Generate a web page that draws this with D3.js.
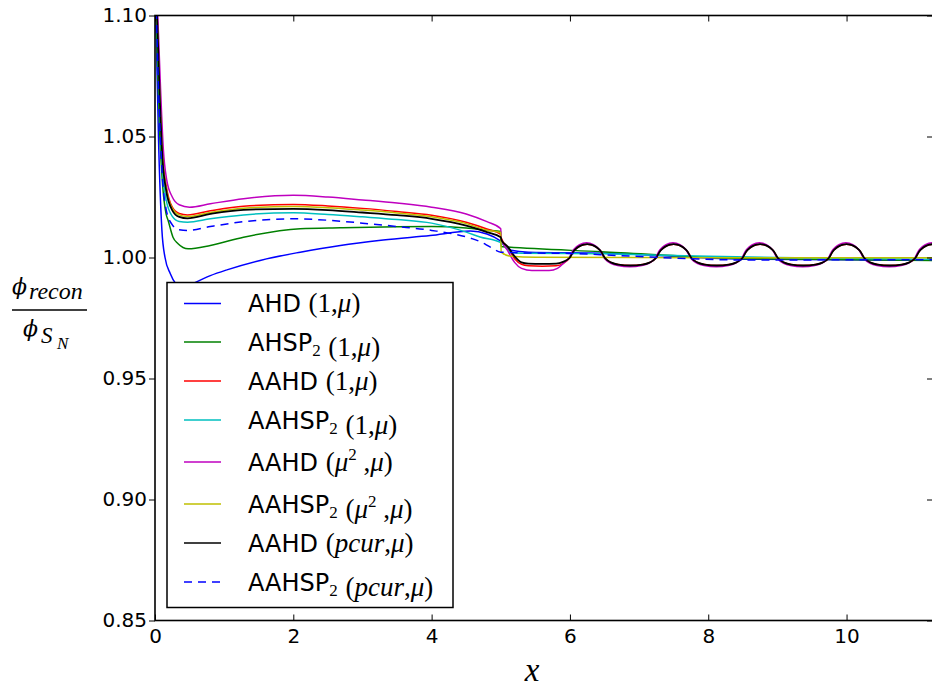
<!DOCTYPE html>
<html>
<head>
<meta charset="utf-8">
<script src="https://cdn.jsdelivr.net/npm/d3@7"></script>
<style>
  html, body { margin: 0; padding: 0; background: #fff; }
  svg { display: block; }
</style>
</head>
<body>
<svg id="chart" width="932" height="689"></svg>
<script>
// ---------------- data ----------------
const xTicks = [0, 2, 4, 6, 8, 10];
const yTicks = [0.85, 0.90, 0.95, 1.00, 1.05, 1.10];
const xDomain = [0, 11.25];
const yDomain = [0.85, 1.10];

const seriesNames = ["AHD", "AHSP", "AAHD", "AAHSP", "AAHD", "AAHSP", "AAHD", "AAHSP"];
const seriesSub = [null, "2", null, "2", null, "2", null, "2"];
const seriesArgs = ["1", "1", "1", "1", "mu2", "mu2", "pcur", "pcur"];
const seriesColors = ["#0000ff", "#008000", "#ff0000", "#00bfbf", "#bf00bf", "#bfbf00", "#000000", "#0000ff"];
const seriesDash = [null, null, null, null, null, null, null, "8,6"];

// AHD (1,mu) - blue
const ahd1 = [[0,1.115],[0.02,1.09],[0.05,1.05],[0.1,1.0112],[0.145,1.0],[0.22,0.9934],[0.3,0.9892],[0.4,0.9875],[0.55,0.9893],
  [0.8,0.9925],[1.04,0.9949],[1.52,0.9988],[2.1,1.0022],[2.68,1.005],[3.3,1.0072],[3.98,1.0091],[4.56,1.0109],[4.8,1.0097],
  [5.0,1.0068],[5.15,1.003],[5.4,1.0022],[6.5,1.0018],[8.5,0.9993],[11.25,0.9989]];
// AHSP2 (1,mu) - green
const ahsp1 = [[0,1.12],[0.03,1.085],[0.07,1.05],[0.11,1.03],[0.16,1.018],[0.19,1.0153],[0.26,1.0084],[0.33,1.0058],[0.48,1.0036],
  [0.8,1.005],[1.28,1.0084],[2.1,1.0119],[2.68,1.0123],[3.5,1.0127],[4.0,1.0128],[4.5,1.0122],[4.8,1.0113],[5.0,1.0107],
  [5.005,1.0045],[5.1,1.0043],[6.45,1.0024],[8.6,0.9995],[11.25,0.9988]];
// AAHD (1,mu) - red
const aahd1 = [[0,1.135],[0.03,1.10],[0.07,1.067],[0.11,1.042],[0.16,1.03],[0.25,1.0208],[0.35,1.0182],[0.47,1.0176],[0.8,1.0193],
  [1.28,1.0212],[2.0,1.0219],[2.5,1.0213],[3.0,1.0203],[3.5,1.019],[4.0,1.0175],[4.5,1.0146],[4.8,1.0118],[5.0,1.0095],
  [5.01,1.0078],[5.1,1.0042],[5.2,0.9995],[5.3,0.9972],[5.4,0.9966],[5.6,0.9964],[5.8,0.9966],[5.9,0.9975],[6.0,1.0],
  [6.05,1.0025],[6.1,1.0039],[6.15,1.0048],[6.2,1.0053],[6.25,1.0055],[6.3,1.0053],[6.35,1.0048],[6.4,1.0039],[6.45,1.0025],[6.5,1.0],
  [6.55,0.9987],[6.6,0.9979],[6.7,0.9971],[6.875,0.9967],[7.05,0.9971],[7.15,0.9979],[7.2,0.9987],[7.25,1.0],
  [7.3,1.0025],[7.35,1.0039],[7.4,1.0048],[7.45,1.0053],[7.5,1.0055],[7.55,1.0053],[7.6,1.0048],[7.65,1.0039],[7.7,1.0025],[7.75,1.0],
  [7.8,0.9987],[7.85,0.9979],[7.95,0.9971],[8.125,0.9967],[8.3,0.9971],[8.4,0.9979],[8.45,0.9987],[8.5,1.0],
  [8.55,1.0025],[8.6,1.0039],[8.65,1.0048],[8.7,1.0053],[8.75,1.0055],[8.8,1.0053],[8.85,1.0048],[8.9,1.0039],[8.95,1.0025],[9.0,1.0],
  [9.05,0.9987],[9.1,0.9979],[9.2,0.9971],[9.375,0.9967],[9.55,0.9971],[9.65,0.9979],[9.7,0.9987],[9.75,1.0],
  [9.8,1.0025],[9.85,1.0039],[9.9,1.0048],[9.95,1.0053],[10.0,1.0055],[10.05,1.0053],[10.1,1.0048],[10.15,1.0039],[10.2,1.0025],[10.25,1.0],
  [10.3,0.9987],[10.35,0.9979],[10.45,0.9971],[10.625,0.9967],[10.8,0.9971],[10.9,0.9979],[10.95,0.9987],[11.0,1.0],
  [11.05,1.0025],[11.1,1.0039],[11.15,1.0048],[11.2,1.0053],[11.25,1.0055],[11.3,1.0053]];
// AAHSP2 (1,mu) - cyan
const aahsp1 = [[0,1.125],[0.03,1.095],[0.07,1.06],[0.11,1.036],[0.16,1.024],[0.25,1.017],[0.35,1.0149],[0.47,1.0146],[0.8,1.016],
  [1.28,1.0176],[2.0,1.0185],[2.5,1.0178],[3.0,1.0168],[3.5,1.0157],[4.0,1.0142],[4.5,1.0105],[4.7,1.0085],[5.0,1.0062],
  [5.15,1.0022],[5.3,1.0018],[6.5,1.0015],[8.0,1.0005],[9.5,0.9998],[11.25,0.9993]];
// AAHD (mu^2,mu) - magenta
const aahdMu2 = [[0,1.135],[0.04,1.10],[0.08,1.07],[0.12,1.045],[0.17,1.032],[0.25,1.025],[0.35,1.0218],[0.5,1.0208],[0.8,1.0222],
  [1.28,1.0243],[2.0,1.0257],[2.5,1.025],[3.0,1.0238],[3.5,1.0225],[4.0,1.0208],[4.5,1.018],[4.8,1.0148],[5.0,1.0119],
  [5.005,1.0077],[5.1,1.0028],[5.2,0.998],[5.3,0.9955],[5.45,0.9946],[5.7,0.9946],[5.82,0.9955],[5.92,0.998],[5.99,1.0],
  [6.04,1.0027],[6.09,1.0043],[6.14,1.0053],[6.19,1.0059],[6.24,1.0061],[6.29,1.0059],[6.34,1.0053],[6.39,1.0043],[6.44,1.0027],[6.49,1.0],
  [6.54,0.9985],[6.59,0.9976],[6.69,0.9967],[6.865,0.9962],[7.04,0.9967],[7.14,0.9976],[7.19,0.9985],[7.24,1.0],
  [7.29,1.0027],[7.34,1.0043],[7.39,1.0053],[7.44,1.0059],[7.49,1.0061],[7.54,1.0059],[7.59,1.0053],[7.64,1.0043],[7.69,1.0027],[7.74,1.0],
  [7.79,0.9985],[7.84,0.9976],[7.94,0.9967],[8.115,0.9962],[8.29,0.9967],[8.39,0.9976],[8.44,0.9985],[8.49,1.0],
  [8.54,1.0027],[8.59,1.0043],[8.64,1.0053],[8.69,1.0059],[8.74,1.0061],[8.79,1.0059],[8.84,1.0053],[8.89,1.0043],[8.94,1.0027],[8.99,1.0],
  [9.04,0.9985],[9.09,0.9976],[9.19,0.9967],[9.365,0.9962],[9.54,0.9967],[9.64,0.9976],[9.69,0.9985],[9.74,1.0],
  [9.79,1.0027],[9.84,1.0043],[9.89,1.0053],[9.94,1.0059],[9.99,1.0061],[10.04,1.0059],[10.09,1.0053],[10.14,1.0043],[10.19,1.0027],[10.24,1.0],
  [10.29,0.9985],[10.34,0.9976],[10.44,0.9967],[10.615,0.9962],[10.79,0.9967],[10.89,0.9976],[10.94,0.9985],[10.99,1.0],
  [11.04,1.0027],[11.09,1.0043],[11.14,1.0053],[11.19,1.0059],[11.24,1.0061],[11.3,1.0058]];
// AAHSP2 (mu^2,mu) - yellow
const aahspMu2 = [[0,1.13],[0.03,1.10],[0.07,1.066],[0.11,1.041],[0.16,1.029],[0.25,1.0203],[0.35,1.0176],[0.47,1.0169],[0.8,1.0186],
  [1.28,1.0204],[2.0,1.0211],[2.5,1.0206],[3.0,1.0196],[3.5,1.0184],[4.0,1.0168],[4.5,1.014],[4.8,1.0113],[5.0,1.0103],
  [5.005,1.0022],[5.15,1.0005],[5.5,1.0001],[7.0,1.0],[9.0,0.9999],[11.25,0.9999]];
// AAHD (pcur,mu) - black
const aahdPcur = [[0,1.13],[0.03,1.10],[0.07,1.065],[0.11,1.04],[0.16,1.028],[0.25,1.0195],[0.35,1.0168],[0.47,1.0162],[0.8,1.018],
  [1.28,1.0197],[2.0,1.0201],[2.5,1.0196],[3.0,1.0186],[3.5,1.0175],[4.0,1.016],[4.5,1.0132],[4.8,1.0105],[5.0,1.0084],
  [5.01,1.0072],[5.1,1.0045],[5.2,1.0005],[5.3,0.998],[5.4,0.9975],[5.6,0.9974],[5.8,0.9975],[5.9,0.9982],[6.0,1.0],
  [6.05,1.0025],[6.1,1.0039],[6.15,1.0048],[6.2,1.0053],[6.25,1.0055],[6.3,1.0053],[6.35,1.0048],[6.4,1.0039],[6.45,1.0025],[6.5,1.0],
  [6.55,0.9987],[6.6,0.9979],[6.7,0.9971],[6.875,0.9967],[7.05,0.9971],[7.15,0.9979],[7.2,0.9987],[7.25,1.0],
  [7.3,1.0025],[7.35,1.0039],[7.4,1.0048],[7.45,1.0053],[7.5,1.0055],[7.55,1.0053],[7.6,1.0048],[7.65,1.0039],[7.7,1.0025],[7.75,1.0],
  [7.8,0.9987],[7.85,0.9979],[7.95,0.9971],[8.125,0.9967],[8.3,0.9971],[8.4,0.9979],[8.45,0.9987],[8.5,1.0],
  [8.55,1.0025],[8.6,1.0039],[8.65,1.0048],[8.7,1.0053],[8.75,1.0055],[8.8,1.0053],[8.85,1.0048],[8.9,1.0039],[8.95,1.0025],[9.0,1.0],
  [9.05,0.9987],[9.1,0.9979],[9.2,0.9971],[9.375,0.9967],[9.55,0.9971],[9.65,0.9979],[9.7,0.9987],[9.75,1.0],
  [9.8,1.0025],[9.85,1.0039],[9.9,1.0048],[9.95,1.0053],[10.0,1.0055],[10.05,1.0053],[10.1,1.0048],[10.15,1.0039],[10.2,1.0025],[10.25,1.0],
  [10.3,0.9987],[10.35,0.9979],[10.45,0.9971],[10.625,0.9967],[10.8,0.9971],[10.9,0.9979],[10.95,0.9987],[11.0,1.0],
  [11.05,1.0025],[11.1,1.0039],[11.15,1.0048],[11.2,1.0053],[11.25,1.0055],[11.3,1.0053]];
// AAHSP2 (pcur,mu) - blue dashed
const aahspPcur = [[0,1.125],[0.03,1.09],[0.07,1.055],[0.11,1.032],[0.16,1.02],[0.25,1.0135],[0.35,1.0115],[0.47,1.0112],[0.8,1.0128],
  [1.28,1.0148],[2.0,1.016],[2.5,1.0154],[3.0,1.0142],[3.5,1.0128],[4.0,1.0112],[4.56,1.008],[4.7,1.0066],[4.85,1.0043],
  [5.0,1.0022],[5.3,1.0019],[6.0,1.0017],[6.7,1.0008],[8.5,0.999],[11.25,0.9991]];

const seriesData = [ahd1, ahsp1, aahd1, aahsp1, aahdMu2, aahspMu2, aahdPcur, aahspPcur];

// ---------------- layout ----------------
const L = 155, R = 933, T = 15.5, B = 620.5;
const svg = d3.select("#chart");
const x = d3.scaleLinear().domain(xDomain).range([L, R]);
const y = d3.scaleLinear().domain(yDomain).range([B, T]);

svg.append("defs").append("clipPath").attr("id", "plotclip")
  .append("rect").attr("x", L).attr("y", T).attr("width", R - L).attr("height", B - T);

const line = d3.line().x(d => x(d[0])).y(d => y(d[1])).curve(d3.curveMonotoneX);

const plot = svg.append("g").attr("clip-path", "url(#plotclip)");
seriesData.forEach((data, i) => {
  plot.append("path")
    .attr("d", line(data))
    .attr("fill", "none")
    .attr("stroke", seriesColors[i])
    .attr("stroke-width", i === 6 ? 1.8 : 1.5)
    .attr("stroke-dasharray", seriesDash[i])
    .attr("stroke-linejoin", "round");
});

// axes
const tickFont = "DejaVu Sans, Bitstream Vera Sans, sans-serif";
const fmt = d3.format(".2f");

const gx = svg.append("g").attr("transform", `translate(0,${B})`)
  .call(d3.axisBottom(x).tickValues(xTicks).tickSizeInner(-6).tickSizeOuter(0).tickPadding(8).tickFormat(d3.format("d")));
const gy = svg.append("g").attr("transform", `translate(${L},0)`)
  .call(d3.axisLeft(y).tickValues(yTicks).tickSizeInner(6).tickSizeOuter(0).tickPadding(2).tickFormat(fmt));
const gt = svg.append("g").attr("transform", `translate(0,${T})`)
  .call(d3.axisTop(x).tickValues(xTicks).tickSizeInner(-6).tickSizeOuter(0).tickFormat(""));
const gr = svg.append("g").attr("transform", `translate(${R},0)`)
  .call(d3.axisRight(y).tickValues(yTicks).tickSizeInner(-6).tickSizeOuter(0).tickFormat(""));

[gx, gy, gt, gr].forEach(g => {
  g.select(".domain").remove();
  g.selectAll(".tick line").attr("stroke", "#000").attr("stroke-width", 1);
  g.selectAll(".tick text").attr("fill", "#000").style("font-family", tickFont).style("font-size", "20px");
});

svg.append("rect").attr("x", L).attr("y", T).attr("width", R - L).attr("height", B - T)
  .attr("fill", "none").attr("stroke", "#000").attr("stroke-width", 1.6);

// axis labels
const serif = "Liberation Serif, DejaVu Serif, serif";
svg.append("text").attr("x", 532).attr("y", 681).attr("text-anchor", "middle")
  .style("font-family", serif).style("font-style", "italic").style("font-size", "33px").text("x");

const yl = svg.append("g");
yl.append("text").attr("x", 12).attr("y", 294).style("font-family", "DejaVu Serif, serif").style("font-style", "italic")
  .style("font-size", "22px").text("ϕ");
yl.append("text").attr("x", 29).attr("y", 299).style("font-family", serif).style("font-style", "italic")
  .style("font-size", "24px").text("recon");
yl.append("line").attr("x1", 12).attr("x2", 87).attr("y1", 310).attr("y2", 310).attr("stroke", "#000").attr("stroke-width", 1.5);
yl.append("text").attr("x", 23).attr("y", 336).style("font-family", "DejaVu Serif, serif").style("font-style", "italic")
  .style("font-size", "22px").text("ϕ");
yl.append("text").attr("x", 41).attr("y", 343).style("font-family", serif).style("font-style", "italic")
  .style("font-size", "23px").text("S");
yl.append("text").attr("x", 57).attr("y", 349).style("font-family", serif).style("font-style", "italic")
  .style("font-size", "17px").text("N");

// legend
const legendRowY = [303.5, 342, 381, 420, 462, 504, 543, 582];
const lg = svg.append("g");
lg.append("rect").attr("x", 167).attr("y", 282.5).attr("width", 286).attr("height", 325)
  .attr("fill", "#fff").attr("stroke", "#000").attr("stroke-width", 1.5);

function addMath(t, arg) {
  const rs = s => t.append("tspan").style("font-family", serif).style("font-style", "normal").style("font-size", "27px").text(s);
  const it = s => t.append("tspan").style("font-family", serif).style("font-style", "italic").style("font-size", "27px").text(s);
  t.append("tspan").text(" ");
  if (arg === "1") { rs("(1,"); it("μ"); rs(")"); }
  else if (arg === "mu2") {
    rs("("); it("μ");
    t.append("tspan").style("font-family", serif).style("font-size", "17px").attr("dy", -11).text("2");
    t.append("tspan").style("font-family", serif).style("font-size", "27px").attr("dy", 11).text(" ,");
    it("μ"); rs(")");
  } else { rs("("); it("pcur"); rs(","); it("μ"); rs(")"); }
}

seriesNames.forEach((name, i) => {
  const yy = legendRowY[i];
  lg.append("line").attr("x1", 184).attr("x2", 221).attr("y1", yy).attr("y2", yy)
    .attr("stroke", seriesColors[i]).attr("stroke-width", 1.5).attr("stroke-dasharray", seriesDash[i]);
  const t = lg.append("text").attr("x", 248).attr("y", yy + 8.5)
    .style("font-family", tickFont).style("font-size", "24px").attr("fill", "#000");
  t.append("tspan").text(name);
  if (seriesSub[i]) {
    t.append("tspan").style("font-family", serif).style("font-size", "17px").attr("dy", 5).text(seriesSub[i]);
    t.append("tspan").attr("dy", -5).text("");
  }
  addMath(t, seriesArgs[i]);
});
</script>
</body>
</html>
